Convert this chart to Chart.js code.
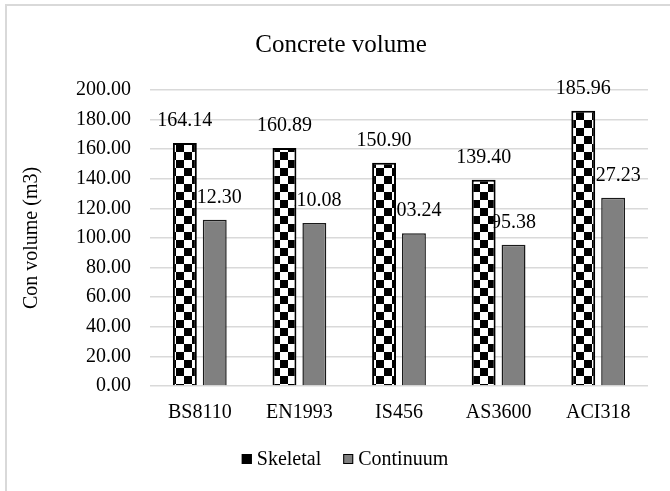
<!DOCTYPE html>
<html>
<head>
<meta charset="utf-8">
<script src="https://cdn.jsdelivr.net/npm/chart.js@4"></script>
<style>
  html, body { margin: 0; padding: 0; background: #fff; overflow: hidden; }
  #frame {
    position: absolute; left: 5px; top: 4px; width: 700px; height: 520px;
    border-left: 2px solid #d9d9d9; border-top: 2px solid #d9d9d9;
  }
  #wrap { position: absolute; left: 0; top: 0; width: 670px; height: 491px; }
</style>
</head>
<body>
<div id="frame"></div>
<div id="wrap"><canvas id="chart" width="670" height="491"></canvas></div>
<script>
// chart values
var categories = ["BS8110", "EN1993", "IS456", "AS3600", "ACI318"];
var skeletal = [164.14, 160.89, 150.90, 139.40, 185.96];
var continuum = [112.30, 110.08, 103.24, 95.38, 127.23];
var seriesNames = ["Skeletal", "Continuum"];
var chartTitle = "Concrete volume";
var yTitle = "Con volume (m3)";
var yMin = 0, yMax = 200, yStep = 20;

(function () {
    "use strict";

    var FONT = "'Liberation Serif', serif";
    Chart.defaults.font.family = FONT;
    Chart.defaults.color = "#000";

    // checkerboard fill like the Excel "large checker board" pattern
    function checker() {
        var c = document.createElement("canvas");
        c.width = 16;
        c.height = 16;
        var g = c.getContext("2d");
        g.fillStyle = "#fff";
        g.fillRect(0, 0, 16, 16);
        g.fillStyle = "#000";
        g.fillRect(0, 0, 8, 8);
        g.fillRect(8, 8, 8, 8);
        return g.createPattern(c, "repeat");
    }

    // data labels above each bar; continuum labels go under the bars
    function drawLabels(chart, dsIndex) {
        var ctx = chart.ctx;
        var meta = chart.getDatasetMeta(dsIndex);
        var data = chart.data.datasets[dsIndex].data;
        ctx.save();
        ctx.font = "20px " + FONT;
        ctx.fillStyle = "#000";
        ctx.textAlign = "center";
        ctx.textBaseline = "middle";
        meta.data.forEach(function (bar, i) {
            ctx.fillText(data[i].toFixed(2), bar.x, bar.y - 22);
        });
        ctx.restore();
    }

    var labelPlugin = {
        id: "valueLabels",
        beforeDatasetsDraw: function (chart) { drawLabels(chart, 1); },
        afterDatasetsDraw: function (chart) { drawLabels(chart, 0); },
    };

    // title and legend sit where Excel put them (centred on the whole chart box)
    var decorPlugin = {
        id: "decor",
        afterDraw: function (chart) {
            var ctx = chart.ctx;
            var ds = chart.data.datasets;
            ctx.save();
            ctx.fillStyle = "#000";
            ctx.textAlign = "center";
            ctx.textBaseline = "middle";
            ctx.font = "25px " + FONT;
            ctx.fillText(chartTitle, 341, 45);

            var box = 10, gap = 5, space = 22;
            ctx.font = "20px " + FONT;
            var widths = ds.map(function (d) { return box + gap + ctx.measureText(d.label).width; });
            var total = widths.reduce(function (a, b) { return a + b; }, 0) + space * (ds.length - 1);
            var x = 345 - total / 2;
            var y = 459;
            ds.forEach(function (d, i) {
                ctx.fillStyle = i === 0 ? "#000" : d.backgroundColor;
                ctx.fillRect(x, y - 5, box, box);
                ctx.strokeStyle = "#000";
                ctx.lineWidth = 1;
                ctx.strokeRect(x + 0.5, y - 4.5, box - 1, box - 1);
                ctx.fillStyle = "#000";
                ctx.textAlign = "left";
                ctx.fillText(d.label, x + box + gap, y + 1);
                x += widths[i] + space;
            });
            ctx.restore();
        },
    };

    function build() {
        var canvas = document.getElementById("chart");
        new Chart(canvas, {
            type: "bar",
            data: {
                labels: categories,
                datasets: [
                    {
                        label: seriesNames[0],
                        data: skeletal,
                        backgroundColor: checker(),
                        borderColor: "#000",
                        borderWidth: 2,
                    },
                    {
                        label: seriesNames[1],
                        data: continuum,
                        backgroundColor: "#808080",
                        borderColor: "#1a1a1a",
                        borderWidth: 1.5,
                    },
                ],
            },
            options: {
                animation: false,
                responsive: false,
                devicePixelRatio: 1,
                categoryPercentage: 0.6,
                barPercentage: 0.8,
                layout: { padding: { left: 10, right: 22, top: 90, bottom: 65 } },
                plugins: {
                    legend: { display: false },
                    tooltip: { enabled: false },
                    title: { display: false },
                },
                scales: {
                    x: {
                        grid: { display: false },
                        border: { display: false },
                        ticks: {
                            color: "#000",
                            padding: 7,
                            font: { family: FONT, size: 20 },
                        },
                        afterFit: function (s) { s.height = 40; },
                    },
                    y: {
                        min: yMin,
                        max: yMax,
                        grid: { color: "#d9d9d9", lineWidth: 1.5, drawTicks: false },
                        border: { display: false },
                        ticks: {
                            stepSize: yStep,
                            color: "#000",
                            padding: 19,
                            font: { family: FONT, size: 20 },
                            callback: function (v) { return Number(v).toFixed(2); },
                        },
                        title: {
                            display: true,
                            text: yTitle,
                            color: "#000",
                            font: { family: FONT, size: 20 },
                            padding: { top: 10, bottom: 0 },
                        },
                        afterFit: function (s) { s.width = 140; },
                    },
                },
            },
            plugins: [labelPlugin, decorPlugin],
        });
    }

    if (document.fonts && document.fonts.load) {
        document.fonts.load("20px 'Liberation Serif'").then(build, build);
    } else {
        build();
    }
})();
</script>
</body>
</html>
